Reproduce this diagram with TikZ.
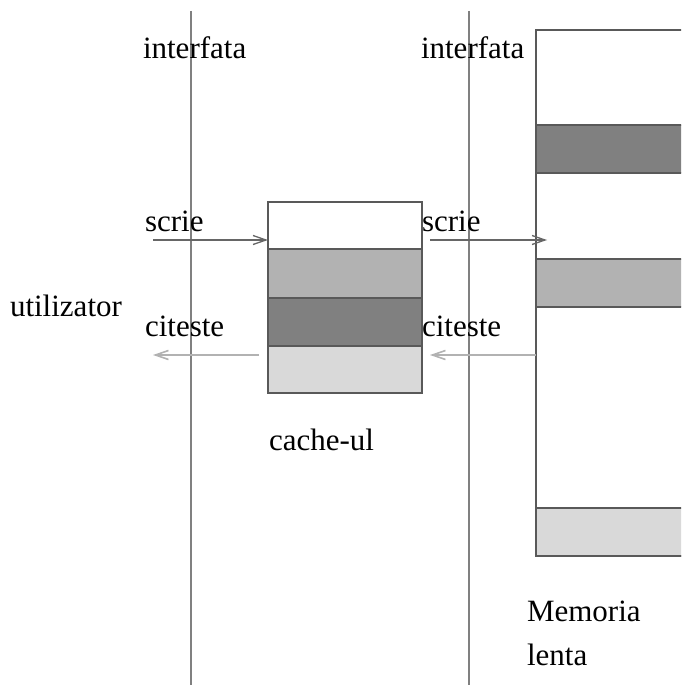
\documentclass[tikz,border=0pt]{standalone}
\usepackage{fontspec}
\setmainfont{Liberation Serif}
\usetikzlibrary{arrows.meta}
\definecolor{bandmid}{gray}{0.70}
\definecolor{banddark}{gray}{0.50}
\definecolor{bandlight}{gray}{0.85}
\tikzset{
  every node/.style={font=\fontsize{31}{36}\selectfont, inner sep=0pt, outer sep=0pt},
  lbl/.style={anchor=base west},
  divider/.style={draw=gray, line width=1.4pt},
  cell/.style={draw=black!65, line width=1.3pt},
  wr/.style={draw=black!60, line width=1.4pt, -{Straight Barb[length=13pt,width=9pt,line width=1.3pt]}},
  rd/.style={draw=black!30, line width=2.2pt, -{Straight Barb[length=13pt,width=9pt,line width=1.6pt]}},
}
\begin{document}
\begin{tikzpicture}[x=1pt,y=-1pt]
\useasboundingbox (0,0) rectangle (681,685);
\clip (0,0) rectangle (681,685);

% interface boundaries
\coordinate (d1top) at (191,11);
\coordinate (d1bot) at (191,690);
\coordinate (d2top) at (469,11);
\coordinate (d2bot) at (469,690);
\draw[divider] (d1top) -- (d1bot);
\draw[divider] (d2top) -- (d2bot);

% slow memory (runs off to the right)
\draw[cell, fill=white] (536,30) rectangle (700,556);
\draw[cell, fill=banddark] (536,125) rectangle (700,173);
\draw[cell, fill=bandmid] (536,259) rectangle (700,307);
\draw[cell, fill=bandlight] (536,508) rectangle (700,556);
\coordinate (memin) at (547,240);
\coordinate (memout) at (536,355);

% cache
\node[cell, fill=white, minimum width=154pt, minimum height=47pt, anchor=north west] (c0) at (268,202) {};
\node[cell, fill=bandmid, minimum width=154pt, minimum height=49pt, anchor=north] (c1) at (c0.south) {};
\node[cell, fill=banddark, minimum width=154pt, minimum height=48pt, anchor=north] (c2) at (c1.south) {};
\node[cell, fill=bandlight, minimum width=154pt, minimum height=47pt, anchor=north] (c3) at (c2.south) {};
\coordinate (cin) at (268,240);
\coordinate (cout) at (259,355);
\coordinate (cwr) at (430,240);
\coordinate (crd) at (430,355);

% user side
\coordinate (uwr) at (153,240);
\coordinate (urd) at (153,355);

% write and read paths
\draw[wr] (uwr) -- (cin);
\draw[rd] (cout) -- (urd);
\draw[wr] (cwr) -- (memin);
\draw[rd] (memout) -- (crd);

% labels
\node[lbl] (if1) at (143,59) {interfata};
\node[lbl] (if2) at (421,59) {interfata};
\node[lbl] (s1) at (145,231) {scrie};
\node[lbl] (r1) at (145,336) {citeste};
\node[lbl] (s2) at (422,231) {scrie};
\node[lbl] (r2) at (422,336) {citeste};
\node[lbl] (user) at (10,316) {utilizator};
\node[lbl] (cname) at (269,450) {cache-ul};
\node[lbl] (mname) at (527,621) {Memoria};
\node[lbl] (mname2) at (527,665) {lenta};
\end{tikzpicture}
\end{document}
